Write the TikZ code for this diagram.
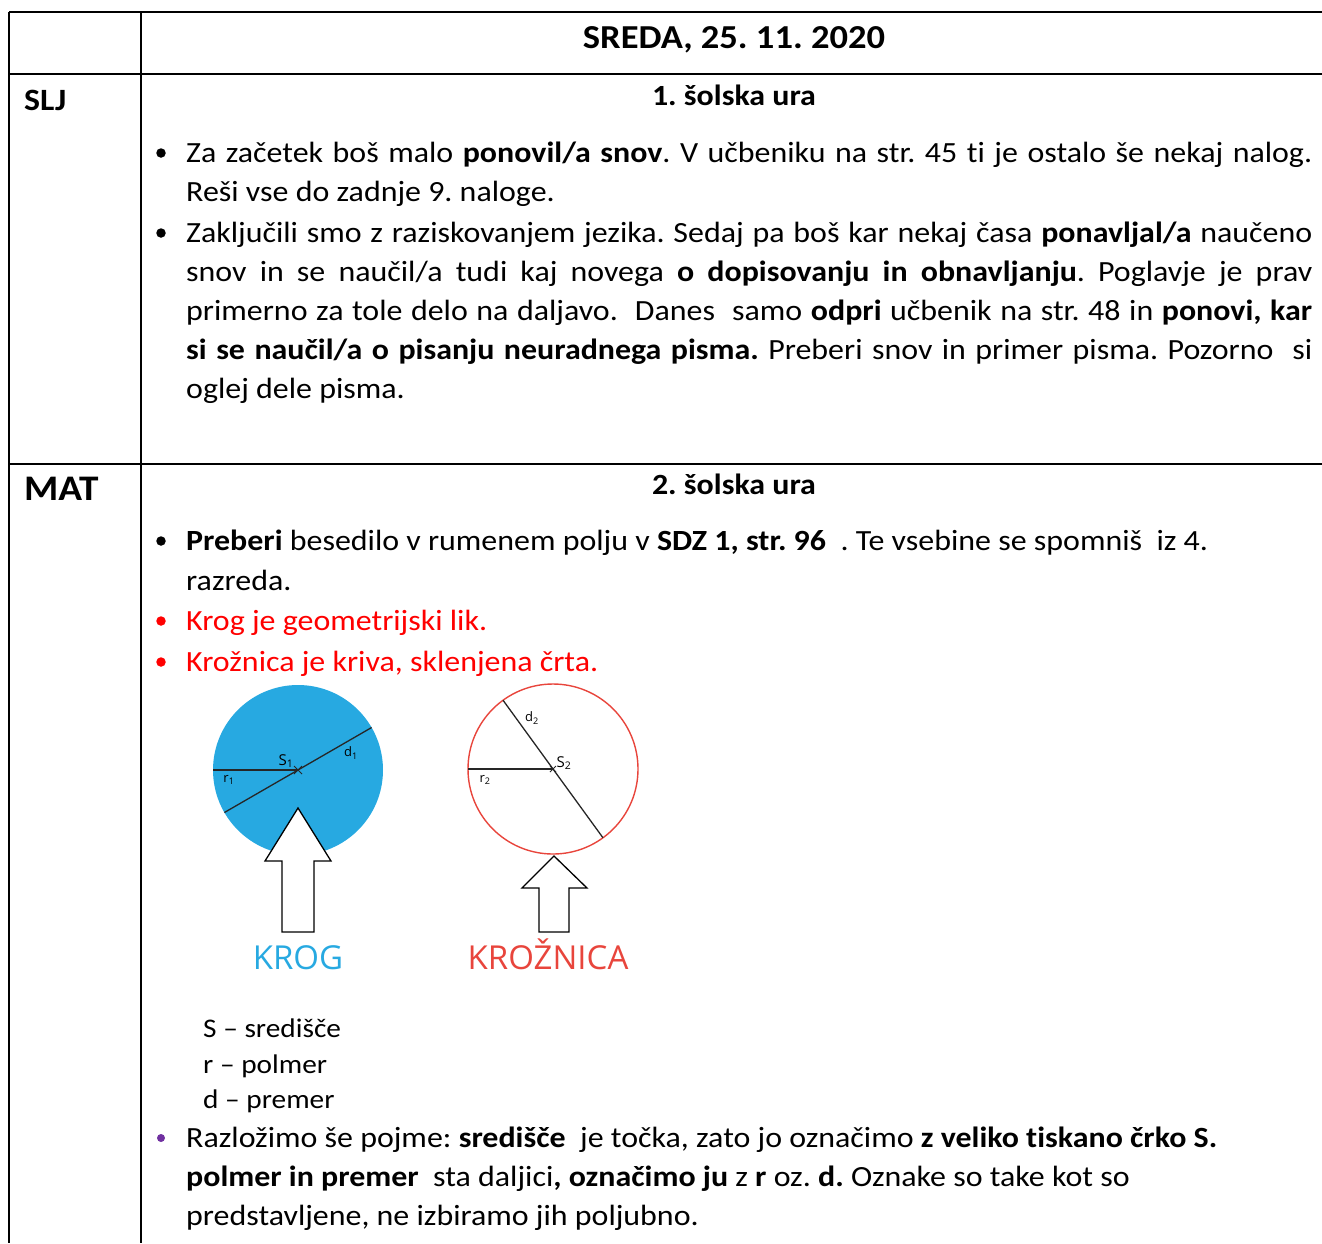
\documentclass[tikz,border=0pt]{standalone}
\usepackage{fontspec}
\setmainfont[FakeStretch=1.09, Ligatures=NoCommon]{Carlito}
\newfontfamily\figfont{Open Sans}
\definecolor{krogblue}{HTML}{27A9E1}
\definecolor{krred}{HTML}{E8453C}
\definecolor{bulpurple}{HTML}{7030A0}
\tikzset{
  txt/.style={anchor=base west, inner sep=0pt, font=\fontsize{29.3}{39}\selectfont},
  legend/.style={anchor=base west, inner sep=0pt, font=\fontsize{26.9}{36}\selectfont},
  hdr/.style={anchor=base, inner sep=0pt, font=\fontsize{29.3}{39}\selectfont\bfseries},
  lbl/.style={anchor=base west, inner sep=0pt, font=\fontsize{31}{39}\selectfont\bfseries},
  rule/.style={line width=2.4pt},
  bul/.style={circle, fill, inner sep=0pt, minimum size=9.5pt},
  fig/.style={inner sep=0pt, font=\figfont\fontsize{13}{14}\selectfont},
  blockarrow/.style={fill=white, draw=black, line width=1.3pt, line join=miter},
  figline/.style={draw=black!85, line width=1.3pt},
  bigword/.style={anchor=base, inner sep=0pt, font=\figfont\fontsize{33}{36}\selectfont},
}
\newcommand{\jline}[1]{\makebox[1126pt][s]{#1}}
\begin{document}
\frenchspacing
\begin{tikzpicture}[x=1pt,y=-1pt]
\useasboundingbox (0,0) rectangle (1322,1243);
% table rules
\coordinate (tl) at (9,12);
\coordinate (tr) at (1322,12);
\coordinate (bl) at (9,1243);
\coordinate (ct) at (141,12);
\coordinate (cb) at (141,1243);
\coordinate (r1l) at (9,74);
\coordinate (r1r) at (1322,74);
\coordinate (r2l) at (9,464);
\coordinate (r2r) at (1322,464);
\draw[rule] (tl) -- (tr);
\draw[rule] (r1l) -- (r1r);
\draw[rule] (r2l) -- (r2r);
\draw[rule] (tl) -- (bl);
\draw[rule] (ct) -- (cb);

% header
\node[hdr, font=\fontsize{33.5}{39}\selectfont\bfseries] (title) at (734,48) {SREDA, 25. 11. 2020};
\node[lbl] (slj) at (24,110) {SLJ};
\node[lbl, font=\fontsize{36}{40}\selectfont\bfseries] (mat) at (24,500) {MAT};

% SLJ
\node[hdr] (ura1) at (734,105) {1. šolska ura};
\node[bul] (b1) at (161,153) {};
\node[txt] (l1) at (186,162) {\jline{Za začetek boš malo \textbf{ponovil/a snov}. V učbeniku na str. 45 ti je ostalo še nekaj nalog.}};
\node[txt] (l2) at (186,201) {Reši vse do zadnje 9. naloge.};
\node[bul] (b2) at (161,233) {};
\node[txt] (l3) at (186,242) {\jline{Zaključili smo z raziskovanjem jezika. Sedaj pa boš kar nekaj časa \textbf{ponavljal/a} naučeno}};
\node[txt] (l4) at (186,281) {\jline{snov in se naučil/a tudi kaj novega \textbf{o dopisovanju in obnavljanju}. Poglavje je prav}};
\node[txt] (l5) at (186,320) {\jline{primerno za tole delo na daljavo.\ \ Danes\ \ samo \textbf{odpri} učbenik na str. 48 in \textbf{ponovi, kar}}};
\node[txt] (l6) at (186,359) {\jline{\textbf{si se naučil/a o pisanju neuradnega pisma.} Preberi snov in primer pisma. Pozorno\ \ si}};
\node[txt] (l7) at (186,398) {oglej dele pisma.};

% MAT
\node[hdr] (ura2) at (734,494) {2. šolska ura};
\node[bul] (b3) at (161,541) {};
\node[txt] (m1) at (186,550) {\textbf{Preberi} besedilo v rumenem polju v \textbf{SDZ 1, str. 96}\ \ . Te vsebine se spomniš\ \ iz 4.};
\node[txt] (m2) at (186,590) {razreda.};
\node[bul, red] (b4) at (161,621) {};
\node[txt, text=red] (m3) at (186,630) {Krog je geometrijski lik.};
\node[bul, red] (b5) at (161,662) {};
\node[txt, text=red] (m4) at (186,671) {Krožnica je kriva, sklenjena črta.};

% figure: krog
\node[circle, fill=krogblue, minimum size=170pt, inner sep=0pt, outer sep=0pt] (krog) at (298,770) {};
\draw[figline] (krog.west) -- (krog.center);
\draw[figline] (krog.210) -- (krog.30);
\draw[figline, line width=1pt] ([shift={(-4,-4)}]krog.center) -- ([shift={(4,4)}]krog.center)
  ([shift={(-4,4)}]krog.center) -- ([shift={(4,-4)}]krog.center);
\node[fig, font=\figfont\fontsize{15}{16}\selectfont] (s1) at (286,761) {S\textsubscript{1}};
\node[fig] (d1) at (351,753) {d\textsubscript{1}};
\node[fig] (r1) at (229,780) {r\textsubscript{1}};
\path[blockarrow] (282,932) -- (282,861) -- (265,861) -- (298,808) -- (331,861) -- (314,861) -- (314,932) -- cycle;
\node[bigword, text=krogblue] (krogt) at (298,969) {KROG};

% figure: kroznica
\node[circle, draw=krred, line width=1.4pt, minimum size=170pt, inner sep=0pt, outer sep=0pt] (kroz) at (553,769) {};
\draw[figline] (kroz.west) -- (kroz.center);
\draw[figline] (kroz.126) -- (kroz.-54);
\draw[figline, line width=1pt] ([shift={(-3,-3)}]kroz.center) -- ([shift={(3,3)}]kroz.center)
  ([shift={(-3,3)}]kroz.center) -- ([shift={(3,-3)}]kroz.center);
\node[fig, font=\figfont\fontsize{15}{16}\selectfont] (s2) at (564,763) {S\textsubscript{2}};
\node[fig] (d2) at (532,718) {d\textsubscript{2}};
\node[fig] (r2) at (485,780) {r\textsubscript{2}};
\path[blockarrow] (539,932) -- (539,888) -- (522,888) -- (554,856) -- (587,888) -- (569,888) -- (569,932) -- cycle;
\node[bigword, text=krred] (krozt) at (548,969) {KROŽNICA};

% legend
\node[legend] (g1) at (203,1037) {S – središče};
\node[legend] (g2) at (203,1073) {r – polmer};
\node[legend] (g3) at (203,1108) {d – premer};

% last paragraph
\node[bul, bulpurple, minimum size=8pt] (b6) at (161,1138) {};
\node[txt] (p1) at (186,1147) {Razložimo še pojme: \textbf{središče}\ \ je točka, zato jo označimo \textbf{z veliko tiskano črko S.}};
\node[txt] (p2) at (186,1186) {\textbf{polmer in premer}\ \ sta daljici\textbf{, označimo ju} z \textbf{r} oz. \textbf{d.} Oznake so take kot so};
\node[txt] (p3) at (186,1225) {predstavljene, ne izbiramo jih poljubno.};
\end{tikzpicture}
\end{document}
